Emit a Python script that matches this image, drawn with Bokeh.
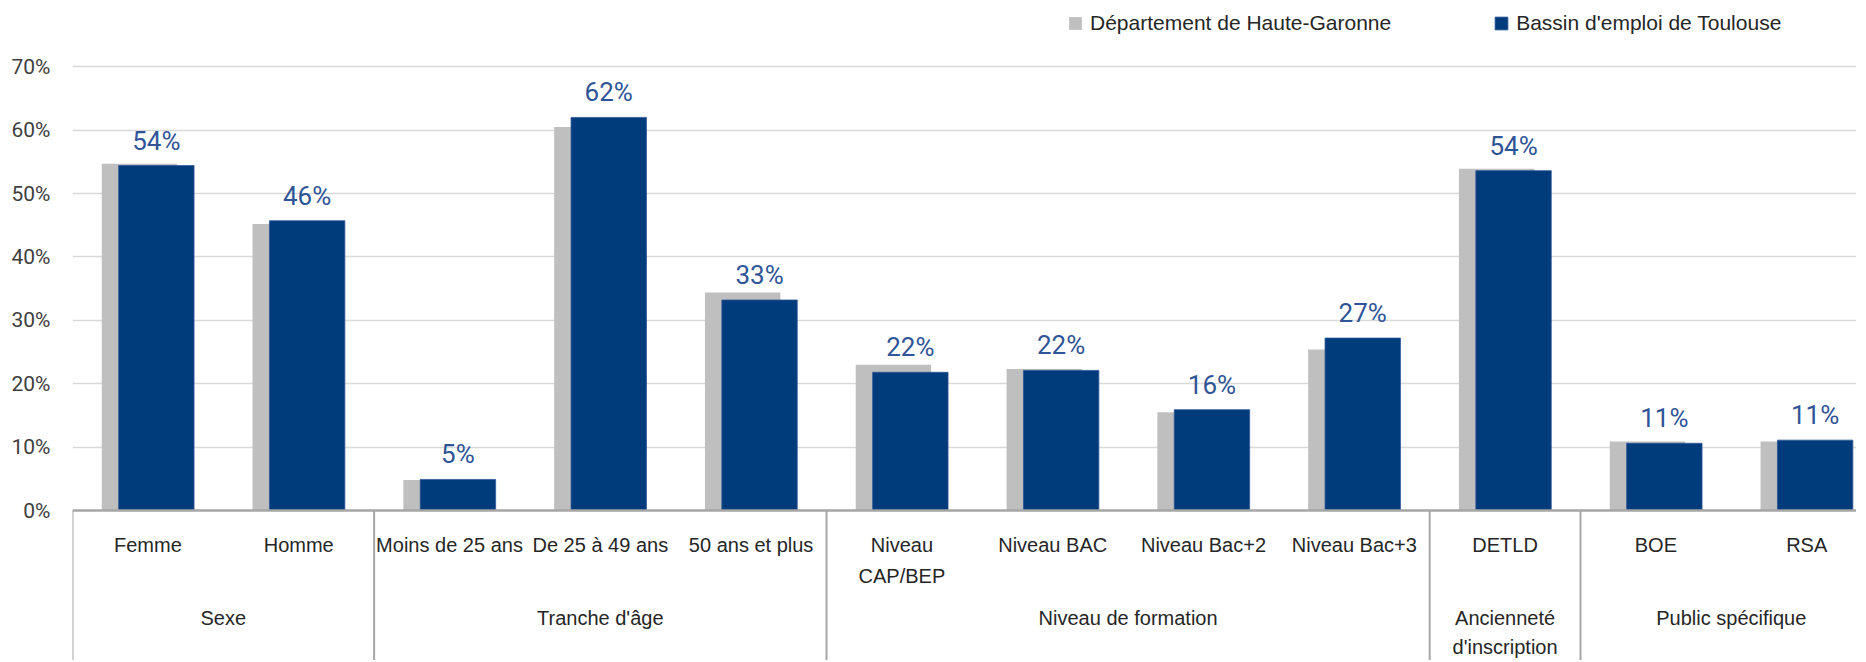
from bokeh.plotting import figure
from bokeh.models import (ColumnDataSource, Range1d, FixedTicker, NumeralTickFormatter, Legend, LegendItem)
from bokeh.core.properties import value
from bokeh.embed import file_html
from bokeh.resources import INLINE

# ---- data ----
categories = ["Femme", "Homme", "Moins de 25 ans", "De 25 à 49 ans", "50 ans et plus",
              "Niveau\nCAP/BEP", "Niveau BAC", "Niveau Bac+2", "Niveau Bac+3",
              "DETLD", "BOE", "RSA"]
groups = ["Sexe", "Tranche d'âge", "Niveau de formation", "Ancienneté\nd'inscription", "Public spécifique"]
group_sizes = [2, 3, 4, 1, 2]
departement = [0.547, 0.452, 0.048, 0.605, 0.344, 0.230, 0.223, 0.155, 0.254, 0.539, 0.109, 0.109]
bassin = [0.544, 0.457, 0.049, 0.620, 0.332, 0.218, 0.221, 0.159, 0.272, 0.536, 0.106, 0.111]
series_names = ["Département de Haute-Garonne", "Bassin d'emploi de Toulouse"]
y_ticks = [0, 0.1, 0.2, 0.3, 0.4, 0.5, 0.6, 0.7]

# ---- style ----
GRAY = "#BFBFBF"
BLUE = "#003B7B"
LABEL_BLUE = "#2F5597"
TEXT = "#262626"
FONT = "Liberation Sans"
NUM_FONT = "Roboto"
W, H = 1856, 660
LEFT = 72
PX_PER_UNIT = 634.0
ZERO_Y = 510  # figure px of 0%
y_top = ZERO_Y / PX_PER_UNIT
y_bot = -(H - ZERO_Y) / PX_PER_UNIT
CAT_PX = 150.8
x_end = -0.5 + (W - LEFT) / CAT_PX

n = len(categories)
xs = list(range(n))
off = 0.056
bw = 0.50

src = ColumnDataSource(dict(
    x=xs,
    xg=[x - off for x in xs],
    xb=[x + off for x in xs],
    dep=departement,
    bas=bassin,
    lab=[f"{round(v*100):.0f}%" for v in bassin],
    laby=[v + 10 / PX_PER_UNIT for v in bassin],
    cat=categories,
))

p = figure(width=W, height=H, output_backend="svg", toolbar_location=None,
           x_range=Range1d(-0.5, x_end), y_range=Range1d(y_bot, y_top),
           min_border_left=LEFT, min_border_right=0, min_border_top=0, min_border_bottom=0)
p.outline_line_color = None
p.background_fill_color = "white"
p.border_fill_color = "white"
p.xaxis.visible = False
p.xgrid.visible = False

p.ygrid.ticker = FixedTicker(ticks=y_ticks[1:])
p.ygrid.grid_line_color = "#D9D9D9"
p.ygrid.grid_line_width = 1.6

p.yaxis.ticker = FixedTicker(ticks=y_ticks)
p.yaxis.formatter = NumeralTickFormatter(format="0%")
p.yaxis.axis_line_color = None
p.yaxis.major_tick_line_color = None
p.yaxis.minor_tick_line_color = None
p.yaxis.major_label_standoff = 16
p.yaxis.major_label_text_font = NUM_FONT
p.yaxis.major_label_text_font_size = "21px"
p.yaxis.major_label_text_color = "#404040"

r1 = p.vbar(x="xg", top="dep", width=bw, source=src, fill_color=GRAY, line_color=None)
r2 = p.vbar(x="xb", top="bas", width=bw, source=src, fill_color=BLUE, line_color="#2F5597", line_width=0.8)

p.text(x="xb", y="laby", text="lab", source=src, text_align="center", text_baseline="bottom",
       text_font=value(NUM_FONT), text_font_size="26px", text_color=LABEL_BLUE)

# axis line at 0
p.segment(x0=[-0.5], y0=[0], x1=[x_end], y1=[0], line_color="#A6A6A6", line_width=2.5)

# group separators
bounds = [-0.5]
for s in group_sizes:
    bounds.append(bounds[-1] + s)
p.segment(x0=bounds, y0=[0] * len(bounds), x1=bounds, y1=[y_bot] * len(bounds),
          line_color="#A6A6A6", line_width=2)

# category labels
cat_y = (ZERO_Y - 533) / PX_PER_UNIT
p.text(x="x", y=cat_y, text="cat", source=src, text_align="center", text_baseline="top",
       text_font=value(FONT), text_font_size="20px", text_color=TEXT, text_line_height=1.45)

# group labels
centers = [(bounds[i] + bounds[i + 1]) / 2 for i in range(len(groups))]
grp_y = (ZERO_Y - 606) / PX_PER_UNIT
p.text(x=centers, y=[grp_y] * len(groups), text=groups, text_align="center", text_baseline="top",
       text_font=value(FONT), text_font_size="20px", text_color=TEXT, text_line_height=1.35)

legend = Legend(items=[LegendItem(label=series_names[0], renderers=[r1]),
                       LegendItem(label=series_names[1], renderers=[r2])],
                orientation="horizontal", location=(995, 625), spacing=102, padding=0, margin=0,
                glyph_width=16, glyph_height=16, label_standoff=7,
                label_text_font=FONT, label_text_font_size="21px", label_text_color=TEXT,
                border_line_color=None, background_fill_alpha=0)
p.add_layout(legend, "center")

open("out.html", "w").write(file_html(p, INLINE))
